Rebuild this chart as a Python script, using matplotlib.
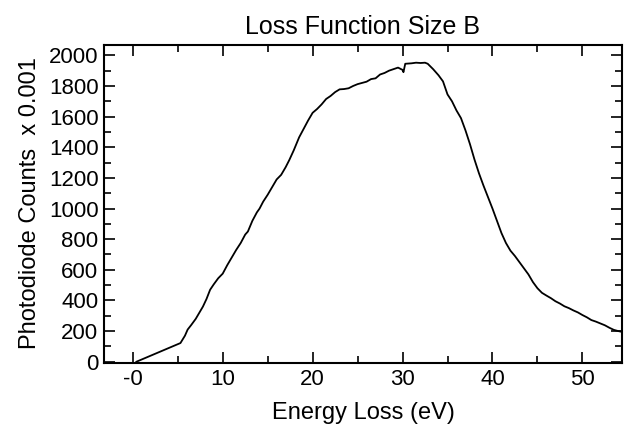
import matplotlib
matplotlib.use("Agg")
import matplotlib.pyplot as plt
from matplotlib.ticker import MultipleLocator, FixedLocator, FixedFormatter

# energy loss (eV) and photodiode counts (x 0.001)
energy = [0.4, 5.3, 5.8, 6.1, 6.5, 7.0, 7.5, 7.8, 8.2, 8.6, 9.0, 9.5,
          10.0, 10.5, 11.0, 11.5, 12.0, 12.5, 12.8, 13.3, 13.8, 14.1, 14.5,
          15.0, 15.5, 16.0, 16.5, 17.0, 17.4, 17.9, 18.5, 19.0, 19.5, 20.0,
          20.5, 21.0, 21.5, 22.0, 22.5, 23.0, 23.5, 24.0, 24.5, 25.0, 25.5,
          26.0, 26.5, 27.0, 27.5, 28.0, 28.5, 29.0, 29.5, 30.0, 30.1, 30.3,
          31.0, 31.5, 32.0, 32.5, 32.8, 33.4, 34.0, 34.5, 35.0, 35.5, 36.0,
          36.5, 37.0, 37.5, 38.0, 38.5, 39.0, 39.5, 40.0, 40.5, 41.0, 41.5,
          42.0, 42.5, 43.0, 43.5, 44.0, 44.5, 45.0, 45.5, 46.0, 46.5, 47.0,
          47.5, 48.0, 48.5, 49.0, 49.5, 50.0, 50.5, 51.0, 51.5, 52.0, 52.5,
          53.0, 53.5, 54.0, 54.4]
counts = [0, 122, 170, 210, 240, 280, 330, 360, 410, 470, 505, 545,
          575, 630, 680, 730, 775, 830, 850, 920, 975, 1000, 1045,
          1090, 1140, 1190, 1220, 1270, 1316, 1380, 1465, 1520, 1575, 1625,
          1650, 1680, 1715, 1735, 1760, 1778, 1780, 1785, 1800, 1812, 1820,
          1828, 1845, 1850, 1875, 1885, 1900, 1910, 1920, 1905, 1890, 1945,
          1948, 1952, 1950, 1952, 1945, 1910, 1870, 1830, 1745, 1700, 1640,
          1590, 1510, 1420, 1320, 1230, 1150, 1075, 1000, 920, 840, 775,
          725, 690, 650, 610, 570, 520, 480, 450, 432, 415, 395,
          380, 362, 350, 335, 322, 305, 290, 272, 262, 250, 238,
          222, 208, 200, 195]

xticks = [0, 10, 20, 30, 40, 50]
xtick_labels = ['-0', '10', '20', '30', '40', '50']

plt.rcParams['font.family'] = ['Liberation Sans', 'DejaVu Sans']

fig = plt.figure(figsize=(6.24, 4.29), dpi=100)
ax = fig.add_axes([0.1667, 0.155, 0.830, 0.741])

ax.plot(energy, counts, color='black', linewidth=1.3)

ax.set_xlim(-3.2, 54.4)
ax.set_ylim(-5, 2070)
ax.xaxis.set_major_locator(FixedLocator(xticks))
ax.xaxis.set_major_formatter(FixedFormatter(xtick_labels))
ax.xaxis.set_minor_locator(MultipleLocator(5))
ax.yaxis.set_major_locator(MultipleLocator(200))
ax.yaxis.set_minor_locator(MultipleLocator(100))

ax.tick_params(which='both', direction='in', top=True, right=True,
               width=1.2, labelsize=16)
ax.tick_params(which='major', length=8)
ax.tick_params(which='minor', length=5)
ax.tick_params(axis='x', pad=5)
ax.tick_params(axis='y', pad=4)
for s in ax.spines.values():
    s.set_linewidth(1.5)

ax.set_title('Loss Function Size B', fontsize=18, pad=8)
ax.set_xlabel('Energy Loss (eV)', fontsize=17, labelpad=8)
ax.set_ylabel('Photodiode Counts  x 0.001', fontsize=17, labelpad=6)

fig.savefig('out.png', dpi=100)
